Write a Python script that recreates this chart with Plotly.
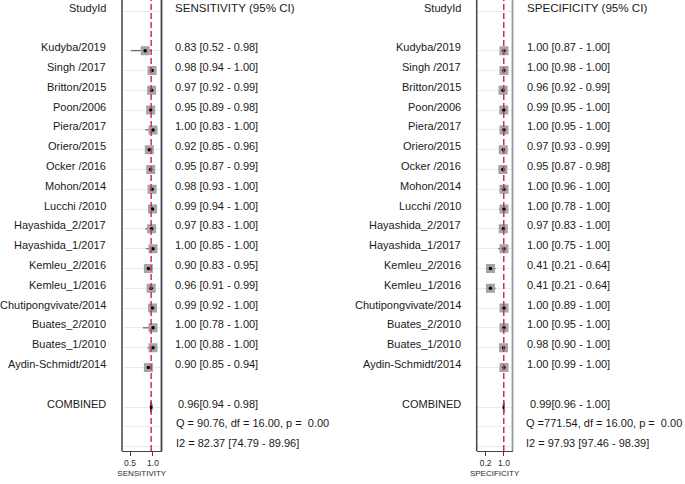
import plotly.graph_objects as go

studies = ["Kudyba/2019", "Singh /2017", "Britton/2015", "Poon/2006", "Piera/2017",
           "Oriero/2015", "Ocker /2016", "Mohon/2014", "Lucchi /2010", "Hayashida_2/2017",
           "Hayashida_1/2017", "Kemleu_2/2016", "Kemleu_1/2016", "Chutipongvivate/2014",
           "Buates_2/2010", "Buates_1/2010", "Aydin-Schmidt/2014"]

sens = [0.83, 0.98, 0.97, 0.95, 1.00, 0.92, 0.95, 0.98, 0.99, 0.97, 1.00, 0.90, 0.96, 0.99, 1.00, 1.00, 0.90]
sens_lo = [0.52, 0.94, 0.92, 0.89, 0.83, 0.85, 0.87, 0.93, 0.94, 0.83, 0.85, 0.83, 0.91, 0.92, 0.78, 0.88, 0.85]
sens_hi = [0.98, 1.00, 0.99, 0.98, 1.00, 0.96, 0.99, 1.00, 1.00, 1.00, 1.00, 0.95, 0.99, 1.00, 1.00, 1.00, 0.94]

spec = [1.00, 1.00, 0.96, 0.99, 1.00, 0.97, 0.95, 1.00, 1.00, 0.97, 1.00, 0.41, 0.41, 1.00, 1.00, 0.98, 1.00]
spec_lo = [0.87, 0.98, 0.92, 0.95, 0.95, 0.93, 0.87, 0.96, 0.78, 0.83, 0.75, 0.21, 0.21, 0.89, 0.95, 0.90, 0.99]
spec_hi = [1.00, 1.00, 0.99, 1.00, 1.00, 0.99, 0.98, 1.00, 1.00, 1.00, 1.00, 0.64, 0.64, 1.00, 1.00, 1.00, 1.00]

sens_comb = (0.96, 0.94, 0.98)
spec_comb = (0.99, 0.96, 1.00)
sens_q = "Q = 90.76, df = 16.00, p =&nbsp; 0.00"
spec_q = "Q =771.54, df = 16.00, p =&nbsp; 0.00"
sens_i2 = "I2 = 82.37 [74.79 - 89.96]"
spec_i2 = "I2 = 97.93 [97.46 - 98.39]"

sens_ticks = [0.5, 1.0]
spec_ticks = [0.2, 1.0]

W, H = 685, 484
FONT = "Liberation Sans, Arial, sans-serif"
TXT = "#1a1a1a"

study_rows = list(range(2, 2 + len(studies)))
comb_row = study_rows[-1] + 2
grid_rows = [0] + study_rows + [comb_row, comb_row + 1, comb_row + 2]

y_bottom_px = 451
ydom = [(H - y_bottom_px) / H, 1.0]
yrange = [comb_row + 2 + 0.22, -0.56]

fig = go.Figure()

def add_panel(xname, yname, est, lo, hi, comb):
    fig.add_trace(go.Scatter(
        x=est, y=study_rows, xaxis=xname, yaxis=yname, mode="markers",
        marker=dict(symbol="square", size=9, color="#a4a4a4", line=dict(width=0)),
        error_x=dict(type="data", symmetric=False,
                     array=[h - e for h, e in zip(hi, est)],
                     arrayminus=[e - l for e, l in zip(est, lo)],
                     color="#4a4a4a", thickness=1, width=0),
        hoverinfo="skip", showlegend=False))
    fig.add_trace(go.Scatter(
        x=est, y=study_rows, xaxis=xname, yaxis=yname, mode="markers",
        marker=dict(symbol="circle", size=3.5, color="black", line=dict(width=0)),
        hoverinfo="skip", showlegend=False))
    e, l, h = comb
    fig.add_trace(go.Scatter(
        x=[l, e, h, e, l], y=[comb_row, comb_row - 0.27, comb_row, comb_row + 0.27, comb_row],
        xaxis=xname, yaxis=yname, mode="lines", fill="toself",
        fillcolor="black", line=dict(color="black", width=1.2),
        hoverinfo="skip", showlegend=False))

add_panel("x", "y", sens, sens_lo, sens_hi, sens_comb)
add_panel("x2", "y2", spec, spec_lo, spec_hi, spec_comb)

def xax(dom, rng, ticks, title, anchor):
    return dict(domain=dom, range=rng, tickvals=ticks, ticktext=[f"{t:.1f}" for t in ticks],
                showgrid=False, zeroline=False, showline=True, linecolor="#444", linewidth=1,
                ticks="outside", ticklen=4, tickcolor="#444", tickwidth=1,
                tickfont=dict(family=FONT, size=8.5, color="#2a2a2a"),
                title=dict(text=title, font=dict(family=FONT, size=8, color="#2a2a2a"), standoff=3),
                anchor=anchor, fixedrange=True)

def yax(anchor):
    return dict(domain=ydom, range=yrange, tickvals=grid_rows, showticklabels=False,
                showgrid=True, gridcolor="#e4eef0", gridwidth=1, zeroline=False,
                showline=False, ticks="", anchor=anchor, fixedrange=True)

fig.update_layout(
    width=W, height=H, margin=dict(l=0, r=0, t=0, b=0),
    paper_bgcolor="white", plot_bgcolor="white",
    xaxis=xax([122 / W, 161.5 / W], [0.326, 1.185], sens_ticks, "SENSITIVITY", "y"),
    xaxis2=xax([476.7 / W, 512.5 / W], [-0.193, 1.372], spec_ticks, "SPECIFICITY", "y2"),
    yaxis=yax("x"),
    yaxis2=yax("x2"),
)

shapes = []
for xr, c_right, est in [("x", "#444", sens_comb[0]), ("x2", "#9a9a9a", spec_comb[0])]:
    shapes.append(dict(type="line", xref=f"{xr} domain", yref="paper", x0=0, x1=0,
                       y0=ydom[0], y1=1, line=dict(color="#444", width=1.5)))
    shapes.append(dict(type="line", xref=f"{xr} domain", yref="paper", x0=1, x1=1,
                       y0=ydom[0], y1=1, line=dict(color=c_right, width=1.8)))
    shapes.append(dict(type="line", xref=xr, yref="paper", x0=est, x1=est,
                       y0=ydom[0], y1=1, line=dict(color="#c8325a", width=1.5, dash="6px,3px")))
fig.update_layout(shapes=shapes)

ann = []
def txt(x_px, row, text, anchor, size=11, yshift=3.5):
    ann.append(dict(x=x_px / W, xref="paper", y=row, yref="y", text=text, showarrow=False,
                    xanchor=anchor, yanchor="middle", yshift=yshift,
                    font=dict(family=FONT, size=size, color=TXT)))

for name_x, val_x, comb_x, st_x, hdr, est, lo, hi, comb, q, i2 in [
    (108, 173, 176, 174, "SENSITIVITY (95% CI)", sens, sens_lo, sens_hi, sens_comb, sens_q, sens_i2),
    (463, 525, 528, 524, "SPECIFICITY (95% CI)", spec, spec_lo, spec_hi, spec_comb, spec_q, spec_i2)]:
    txt(name_x, 0, "StudyId", "right")
    txt(val_x, 0, hdr, "left", size=11.6)
    for r, s, e, l, h in zip(study_rows, studies, est, lo, hi):
        txt(name_x, r, s, "right")
        txt(val_x, r, f"{e:.2f} [{l:.2f} - {h:.2f}]", "left")
    txt(name_x, comb_row, "COMBINED", "right")
    txt(comb_x, comb_row, f"{comb[0]:.2f}[{comb[1]:.2f} - {comb[2]:.2f}]", "left")
    txt(st_x, comb_row + 1, q, "left")
    txt(st_x, comb_row + 2, i2, "left")

fig.update_layout(annotations=ann)
fig.write_html("out.html", config={"displayModeBar": False},
               post_script="document.body.style.margin='0px';")
